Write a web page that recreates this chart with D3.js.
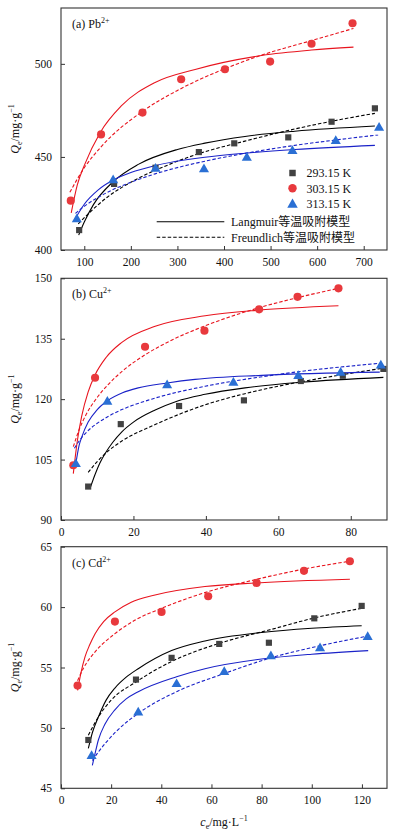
<!DOCTYPE html>
<html><head><meta charset="utf-8">
<script src="https://cdn.jsdelivr.net/npm/d3@7"></script>
<style>
html,body{margin:0;padding:0;background:#fff;}
svg{display:block;font-family:"Liberation Serif","Times New Roman",serif;}
</style></head>
<body><svg id="chart" width="395" height="834"></svg>
<script>
// ---------- DATA ----------
const temps = ["293.15 K", "303.15 K", "313.15 K"];
const modelNames = ["Langmuir等温吸附模型", "Freundlich等温吸附模型"];

// (a) Pb2+
const pbTicksX = [100, 200, 300, 400, 500, 600, 700];
const pbTicksY = [400, 450, 500];
const pb293 = [[89,410.7],[164,435.5],[253,444.2],[346,452.6],[422,457.3],[538,460.5],[631,468.9],[724,476.1]];
const pb303 = [[71,426.5],[136,462.1],[225,473.8],[308,491.7],[402,497.1],[499,501.2],[588,510.8],[676,521.8]];
const pb313 = [[84,417],[162,438],[253,444.2],[357,443.9],[449,450.1],[547,453.7],[640,459.1],[733,466.2]];
const pbLang293 = [[88,408],[100,415],[120,424.5],[162,436.7],[216,446],[300,454],[359,457.4],[445,461],[552,463.8],[724,466.6]];
const pbLang303 = [[72,420],[85,435],[101,446],[134,463],[180,477.5],[252,490],[338,497],[481,504.5],[588,507.4],[678,509]];
const pbLang313 = [[80,416.6],[100,424.6],[130,432.3],[162,437.6],[200,441.6],[252,445.3],[359,449.8],[445,452],[552,454],[724,456.2]];
const pbFreu293 = [[87,414],[110,419.8],[150,428.5],[216,438.5],[280,445.7],[338,451.1],[445,458.5],[552,465],[640,469.6],[724,473.4]];
const pbFreu303 = [[69,431],[100,444.2],[136,455.4],[225,474.5],[300,485.7],[402,497.4],[481,504.7],[588,512.5],[678,519]];
const pbFreu313 = [[81,419.7],[100,423.5],[130,428.3],[162,432.5],[200,436.4],[252,440.9],[359,447.7],[445,451.9],[552,456.2],[640,459.1],[731,461.8]];

// (b) Cu2+
const cuTicksX = [0, 20, 40, 60, 80];
const cuTicksY = [90, 105, 120, 135, 150];
const cu293 = [[7.5,98.3],[16.5,113.8],[32.6,118.3],[50.5,119.7],[66.2,124.5],[77.8,125.8],[89,127.5]];
const cu303 = [[3.4,103.6],[9.4,125.3],[23.2,133.0],[39.6,137.0],[54.7,142.3],[65.3,145.4],[76.6,147.5]];
const cu313 = [[4.1,104.1],[12.8,119.6],[29.3,123.7],[47.6,124.3],[65.5,126.0],[77.2,126.8],[88.3,128.6]];
const cuLang293 = [[8,97.8],[9.4,101.3],[10.7,104.1],[12.1,106.4],[14.3,109.3],[16.8,111.9],[20,114.3],[26,117.3],[32,119.5],[39.8,121.2],[50.8,122.8],[66.5,124.2],[89,125.4]];
const cuLang303 = [[3.4,101.5],[4.5,109.6],[5.7,115.7],[7.5,121.8],[9.4,126],[12.5,130.4],[16.8,134.1],[26,138.1],[39.8,140.7],[54.5,142.1],[76.6,143.2]];
const cuLang313 = [[4.1,104],[5,108.5],[5.7,110.5],[7.5,114.3],[10,117.4],[12.8,119.6],[17,121.6],[21.3,122.8],[29.3,124],[37,124.9],[55.4,125.9],[88,126.7]];
const cuFreu293 = [[7.5,101.8],[10,104.5],[13,107.1],[16.8,109.6],[26,113.7],[39.8,118.6],[50.5,121.3],[66.2,124.3],[77.8,126.1],[89,127.7]];
const cuFreu303 = [[3.4,108.2],[5,112.4],[7,116.3],[9.4,119.7],[13,123.6],[17,127],[23.2,131],[30,134.4],[39.5,138.1],[54.7,142.7],[65.3,145.2],[76.6,147.5]];
const cuFreu313 = [[3.7,107.8],[5,109.6],[7.5,112.2],[10,114],[13,115.7],[16.8,117.4],[25,120],[39.8,123.2],[55,125.5],[65.5,126.8],[88,128.9]];

// (c) Cd2+
const cdTicksX = [0, 20, 40, 60, 80, 100, 120];
const cdTicksY = [45, 50, 55, 60, 65];
const cd293 = [[10.9,49],[29.9,54],[44.1,55.8],[63.1,56.95],[82.9,57.05],[101,59.07],[119.9,60.1]];
const cd303 = [[6.6,53.5],[21.5,58.8],[40.1,59.6],[58.7,60.9],[78,62],[96.9,63],[115.2,63.8]];
const cd313 = [[12.2,47.75],[30.8,51.35],[46.1,53.7],[65.1,54.7],[83.7,56],[103.3,56.67],[122.3,57.6]];
const cdLang293 = [[10.9,48.3],[12.5,49.6],[14.9,50.9],[18,52.3],[21.5,53.3],[26,54.2],[30.8,54.9],[44.1,56.4],[57.4,57.2],[80,57.9],[100,58.25],[119.9,58.46]];
const cdLang303 = [[6.6,53.1],[8,54.6],[9.6,55.9],[11.5,56.9],[13.6,57.8],[17,58.8],[21.5,59.6],[28,60.4],[37.5,61],[57.4,61.7],[78,62],[115.2,62.3]];
const cdLang313 = [[12.5,46.9],[13.5,47.8],[14.9,49],[17.5,50.3],[21.5,51.5],[26,52.4],[30.8,53],[46.1,54.24],[57.4,54.9],[80,55.7],[100,56.1],[122.5,56.4]];
const cdFreu293 = [[10.9,49.4],[14.9,50.9],[20,52.3],[29.9,53.8],[44.1,55.5],[63.1,57],[82.9,58.1],[101,59.1],[119.9,59.9]];
const cdFreu303 = [[6.6,53.9],[9,54.96],[13.6,56.3],[21.5,57.8],[30,58.97],[40.1,59.9],[57.4,61.2],[78,62.3],[96.9,63.15],[115.2,63.8]];
const cdFreu313 = [[12.5,47.3],[14.9,48],[18,48.8],[21.5,49.6],[30.8,51.2],[46.1,53],[65.1,54.5],[83.7,55.8],[103.3,56.8],[122.3,57.6]];

// ---------- STYLE / LAYOUT ----------
const markerFill = ["#424242", "#e8393d", "#2a6fd4"];
const lineColor = ["#000000", "#e8141e", "#1a22c8"];
const symbols = [d3.symbolSquare, d3.symbolCircle, d3.symbolTriangle];
const symbolSize = [38, 52, 44];

const panels = [
  {label:"(a) Pb", sup:"2+", xd:[50,750], yd:[400,530], top:8, bottom:250, tx:pbTicksX, ty:pbTicksY,
   pts:[pb293,pb303,pb313], lang:[pbLang293,pbLang303,pbLang313], freu:[pbFreu293,pbFreu303,pbFreu313], legend:true},
  {label:"(b) Cu", sup:"2+", xd:[0,90], yd:[90,150], top:278.3, bottom:520, tx:cuTicksX, ty:cuTicksY,
   pts:[cu293,cu303,cu313], lang:[cuLang293,cuLang303,cuLang313], freu:[cuFreu293,cuFreu303,cuFreu313]},
  {label:"(c) Cd", sup:"2+", xd:[0,130], yd:[45,65], top:546.7, bottom:788.3, tx:cdTicksX, ty:cdTicksY,
   pts:[cd293,cd303,cd313], lang:[cdLang293,cdLang303,cdLang313], freu:[cdFreu293,cdFreu303,cdFreu313]}
];

const L = 61, R = 387;
const svg = d3.select("#chart");

panels.forEach((p, pi) => {
  const x = d3.scaleLinear().domain(p.xd).range([L, R]);
  const y = d3.scaleLinear().domain(p.yd).range([p.bottom, p.top]);
  const g = svg.append("g");

  // axes (ticks inward)
  const xa = g.append("g").attr("transform", `translate(0,${p.bottom})`)
    .call(d3.axisBottom(x).tickValues(p.tx).tickSizeInner(-4).tickSizeOuter(0).tickPadding(8));
  const ya = g.append("g").attr("transform", `translate(${L},0)`)
    .call(d3.axisLeft(y).tickValues(p.ty).tickSizeInner(-4).tickSizeOuter(0).tickPadding(9));
  [xa, ya].forEach(a => {
    a.select(".domain").remove();
    a.selectAll(".tick line").attr("stroke", "#333").attr("stroke-width", 1);
    a.selectAll(".tick text").attr("font-size", 11.5).attr("fill", "#111")
      .attr("font-family", "'Liberation Serif','Times New Roman',serif");
  });
  // frame
  g.append("rect").attr("x", L).attr("y", p.top).attr("width", R - L).attr("height", p.bottom - p.top)
    .attr("fill", "none").attr("stroke", "#333").attr("stroke-width", 1.1);

  const line = d3.line().x(d => x(d[0])).y(d => y(d[1])).curve(d3.curveMonotoneX);

  // model curves
  [0,1,2].forEach(i => {
    g.append("path").attr("d", line(p.lang[i])).attr("fill", "none")
      .attr("stroke", lineColor[i]).attr("stroke-width", 1.1);
    g.append("path").attr("d", line(p.freu[i])).attr("fill", "none")
      .attr("stroke", lineColor[i]).attr("stroke-width", 1.1).attr("stroke-dasharray", "3.5,2");
  });
  // markers
  [0,1,2].forEach(i => {
    g.selectAll(null).data(p.pts[i]).enter().append("path")
      .attr("d", d3.symbol().type(symbols[i]).size(symbolSize[i]))
      .attr("transform", d => `translate(${x(d[0])},${y(d[1]) + (i===2 ? 1 : 0)})`)
      .attr("fill", markerFill[i]);
  });

  // panel label
  const t = g.append("text").attr("x", L + 11).attr("y", p.top + 20).attr("font-size", 12).attr("fill", "#111");
  t.append("tspan").text(p.label);
  t.append("tspan").attr("font-size", 8).attr("dy", -5).text(p.sup);

  // y label
  const cy = (p.top + p.bottom) / 2;
  const yl = g.append("text").attr("transform", `translate(19,${cy}) rotate(-90)`)
    .attr("text-anchor", "middle").attr("font-size", 12).attr("fill", "#111");
  yl.append("tspan").attr("font-style", "italic").text("Q");
  yl.append("tspan").attr("font-size", 8).attr("dy", 3).text("e");
  yl.append("tspan").attr("dy", -3).text("/mg·g");
  yl.append("tspan").attr("font-size", 8).attr("dy", -5).text("−1");

  // legend
  if (p.legend) {
    const lx = 292.5, ty0 = 173;
    [0,1,2].forEach(i => {
      const yy = ty0 + i * 15.3;
      g.append("path").attr("d", d3.symbol().type(symbols[i]).size(symbolSize[i] + 4)())
        .attr("transform", `translate(${lx},${yy + (i===2 ? 1 : 0)})`).attr("fill", markerFill[i]);
      g.append("text").attr("x", 306.5).attr("y", yy + 4.2).attr("font-size", 12).attr("fill", "#111").text(temps[i]);
    });
    [0,1].forEach(k => {
      const yy = 221.7 + k * 15.6;
      g.append("line").attr("x1", 156.7).attr("x2", 224.3).attr("y1", yy).attr("y2", yy)
        .attr("stroke", "#000").attr("stroke-width", 1.1).attr("stroke-dasharray", k ? "3.5,2" : null);
      g.append("text").attr("x", 231).attr("y", yy + 4.2).attr("font-size", 12).attr("fill", "#111")
        .attr("font-family", "'Liberation Serif','Noto Sans CJK SC',serif").text(modelNames[k]);
    });
  }
});

// x label
const xl = svg.append("text").attr("x", 224).attr("y", 826).attr("text-anchor", "middle")
  .attr("font-size", 12).attr("fill", "#111");
xl.append("tspan").attr("font-style", "italic").text("c");
xl.append("tspan").attr("font-size", 8).attr("dy", 3).text("e");
xl.append("tspan").attr("dy", -3).text("/mg·L");
xl.append("tspan").attr("font-size", 8).attr("dy", -5).text("−1");
</script></body></html>
